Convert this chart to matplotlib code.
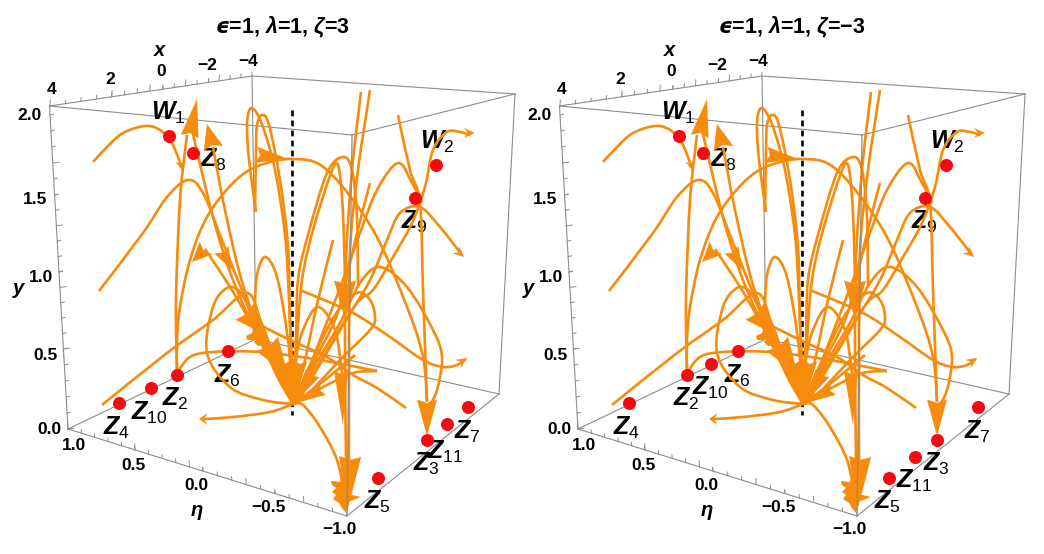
import numpy as np
import matplotlib
matplotlib.use("Agg")
import matplotlib.pyplot as plt
from matplotlib.path import Path
from matplotlib.patches import PathPatch, Polygon

plt.rcParams['font.family'] = ['Liberation Sans', 'DejaVu Sans']
plt.rcParams['mathtext.fontset'] = 'custom'
plt.rcParams['mathtext.rm'] = 'Liberation Sans'
plt.rcParams['mathtext.it'] = 'Liberation Sans:italic:bold'
plt.rcParams['mathtext.bf'] = 'Liberation Sans:bold'
plt.rcParams['mathtext.sf'] = 'DejaVu Sans:italic:bold'

ORANGE = '#F68B0C'
PANEL_SHIFT = 510   # right panel is the same box moved over

titles = [r"$\mathsf{ϵ}$=1, $\mathit{λ}$=1, $\mathit{ζ}$=3",
          r"$\mathsf{ϵ}$=1, $\mathit{λ}$=1, $\mathit{ζ}$=−3"]

# box corners, picture pixels
tl, tb, tf, tr = (49.5, 106), (252, 76), (352, 135), (515, 94)
bl, bb, bf, br = (68, 429), (256, 339), (347, 516), (499, 394)

x_ticks = [4, 2, 0, -2, -4]
x_tick_px = [50, 111.7, 162.7, 208.3, 251.7]
x_label_px = [(52, 89), (110, 80), (161, 72), (207, 66), (248, 61)]

y_ticks = [0.0, 0.5, 1.0, 1.5, 2.0]
y_tick_px = [429, 349, 272, 195, 115]
y_label_px = [(49, 430), (45, 356), (41, 278), (35, 199), (30, 115)]

eta_ticks = [1.0, 0.5, 0.0, -0.5, -1.0]
eta_tick_px = [68, 135, 203, 275, 347]
eta_label_px = [(74, 446), (133, 465), (196, 485), (268, 507), (339, 530)]

# fixed points, left panel
names_a = ['W_1', 'Z_8', 'W_2', 'Z_9', 'Z_6', 'Z_2', 'Z_{10}', 'Z_4', 'Z_7', 'Z_{11}', 'Z_3', 'Z_5']
dots_a = [(169, 136), (193, 153), (436, 165), (415, 198), (228, 351), (177, 375),
          (151, 388), (119, 403), (468, 407), (447, 424), (427, 440), (378, 478)]
labels_a = [(168, 113), (213, 160), (437, 142), (414, 222), (227, 376), (175, 399),
            (149, 413), (117, 428), (467, 432), (445, 452), (426, 464), (377, 502)]

# fixed points, right panel
names_b = ['W_1', 'Z_8', 'W_2', 'Z_9', 'Z_6', 'Z_2', 'Z_{10}', 'Z_4', 'Z_7', 'Z_3', 'Z_{11}', 'Z_5']
dots_b = [(679, 136), (703, 153), (946, 165), (925, 198), (738, 351), (687, 375),
          (711, 364), (629, 403), (978, 407), (937, 440), (915, 457), (889, 478)]
labels_b = [(678, 113), (723, 160), (947, 142), (924, 222), (737, 376), (686, 399),
            (710, 388), (627, 428), (977, 432), (936, 464), (914, 481), (887, 502)]

N = (293, 404)  # where the flow lines meet

# flow lines
line_w1 = [(93, 162), (107, 147), (123, 133), (145, 126), (160, 130), (172, 143), (182, 168)]
line_peak = [(99, 291), (143, 233), (167, 197), (188, 180), (203, 193), (222, 240), (250, 310), (275, 365), N]
line_up1 = [(177, 372), (176, 300), (180, 200), (187, 135)]
line_up2 = [(205, 249), (235, 295), (265, 350), N]
line_down1 = [(192, 130), (213, 217), (233, 280), (262, 345), N]
line_down2 = [(213, 147), (225, 210), (243, 285), (272, 365), N]
line_big = [(177, 373), (177, 340), (180, 307), (190, 260), (207, 217), (233, 183), (258, 166), (293, 159), (327, 170),
            (373, 230), (407, 307), (423, 357), (427, 402)]
loop_1 = [(256, 212), (249, 160), (247, 125), (250, 109), (256, 112), (264, 130), (275, 170), (285, 235), (289, 300), N]
loop_2 = [(255, 212), (256, 150), (257, 125), (262, 115), (269, 125), (280, 180), (288, 247), (290, 320), N]
loop_3 = [(255, 303), (257, 275), (265, 257), (277, 277), (288, 340), N]
arc_1 = [N, (296, 340), (298, 280), (308, 235), (327, 173), (343, 157), (352, 170), (357, 217), (358, 285)]
arc_2 = [N, (297, 340), (302, 280), (313, 230), (331, 173), (338, 165), (342, 197), (344, 240), (345, 285)]
arc_3 = [(370, 183), (357, 233), (345, 285), (335, 320), (315, 360), (297, 400)]
long_1 = [(361, 92), (352, 170), (346, 260), (345, 350), (346, 460)]
long_2 = [(370, 90), (358, 170), (350, 250), (349, 350), (349, 460)]
line_z9 = [(398, 115), (410, 170), (420, 203), (423, 290), (427, 402)]
line_w2 = [(470, 135), (460, 132), (447, 132), (433, 150), (425, 187), (412, 223), (393, 257), (373, 290), (357, 303), (330, 345), (300, 397)]
arc_z9 = [(462, 255), (440, 227), (420, 207), (400, 213), (387, 240), (370, 280), (345, 322), (300, 398)]
arc_top = [(422, 203), (412, 183), (398, 163), (377, 190), (360, 233), (343, 280), (320, 340), (297, 400)]
arc_low = [(428, 408), (437, 390), (442, 357), (433, 330), (407, 287), (380, 267), (360, 283), (340, 323), (318, 360), (297, 400)]
loop_small = [(305, 398), (340, 360), (370, 330), (375, 317), (370, 300), (357, 293), (335, 315), (310, 365), N]
line_right = [(300, 290), (353, 313), (390, 337), (423, 360), (443, 367), (457, 365), (466, 359)]
line_z2_flat = [(177, 373), (190, 357), (213, 352), (260, 352), (320, 360), (377, 371)]
line_tail = [(406, 408), (377, 388), (353, 375), (327, 357), (290, 340), (262, 326)]
line_spur = [N, (327, 385), (353, 373), (377, 371)]
line_left = [N, (270, 412), (233, 417), (204, 419)]
lobe = [N, (263, 400), (230, 387), (207, 353), (213, 307), (227, 288), (240, 292), (253, 317), (280, 370), N]
line_diag = [(102, 405), (167, 353), (213, 320), (247, 293), (262, 325), (283, 380), N]
lobe_r = [N, (296, 360), (303, 330), (318, 307), (335, 330), (342, 373), (343, 380)]
line_bottom = [N, (303, 405), (320, 427), (337, 460), (345, 497)]
line_fan_a = [(333, 240), (318, 300), (305, 360), N]
line_fan_b = [(355, 355), (325, 380), N]

flow_lines = [line_w1, line_peak, line_up1, line_up2, line_down1, line_down2, line_big, loop_1, loop_2, loop_3,
              arc_1, arc_2, arc_3, long_1, long_2, line_z9, line_w2, arc_z9, arc_top, arc_low, loop_small,
              line_right, line_z2_flat, line_tail, line_spur, line_left, lobe, line_diag, lobe_r, line_bottom,
              line_fan_a, line_fan_b]

# large arrow heads: tip, middle of base, half width
head_tips = [(197, 99), (207, 124), (192, 262), (232, 270), (288, 159), (345, 320), (343, 425), (347, 512), (427, 436),
             (268, 336), (288, 376), N, N, N, N, (199, 419)]
head_bases = [(190, 135), (213, 147), (205, 249), (222, 251), (258, 155), (345, 282), (341, 372), (350, 458), (427, 401),
              (246, 312), (268, 345), (284, 362), (300, 362), (312, 374), (322, 390), (206, 419)]
head_half = [9, 10, 9, 8, 8, 11, 7, 11, 10, 13, 13, 11, 7, 8, 6, 6]

# small open heads at the end of the thin lines
small_tips = [(183, 171), (475, 133), (464, 257), (467, 358)]
small_from = [(180, 160), (462, 133), (455, 249), (458, 364)]

# crowd of heads at the lower front corner
spike_x = [331, 340, 343, 346, 348, 361, 348, 346, 342, 339, 333, 336, 332, 336, 332]
spike_y = [481, 482, 470, 483, 494, 497, 502, 513, 508, 503, 499, 495, 492, 488, 485]
# and the one on the left of the middle
jag_x = [246, 252, 254, 262, 268, 266, 258, 254, 250, 256, 247]
jag_y = [336, 333, 327, 330, 338, 345, 346, 342, 345, 340, 340]


def smooth(pts):
    p = np.array(pts, float)
    p = np.vstack([p[0], p, p[-1]])
    verts = [p[1]]
    codes = [Path.MOVETO]
    for i in range(1, len(p) - 2):
        verts += [p[i] + (p[i + 1] - p[i - 1]) / 6, p[i + 1] - (p[i + 2] - p[i]) / 6, p[i + 1]]
        codes += [Path.CURVE4] * 3
    return Path(verts, codes)


def moved(pts, dx):
    return [(a + dx, b) for a, b in pts]


def edge_y(a, b, px):
    return np.interp(px, [a[0], b[0]], [a[1], b[1]])


def edge_x(a, b, py):
    return np.interp(py, [a[1], b[1]], [a[0], b[0]])


def minor(px, n):
    out = []
    for p, q in zip(px[:-1], px[1:]):
        out += list(np.linspace(p, q, n + 1))
    return out


fig = plt.figure(figsize=(10.44, 5.54), dpi=100)
ax = fig.add_axes([0, 0, 1, 1])
ax.set_xlim(0, 1044)
ax.set_ylim(554, 0)
ax.axis('off')

for k, dx in enumerate([0, PANEL_SHIFT]):
    box_back = [(tl, tb), (tb, tr), (tb, bb), (bb, br), (bb, bl), (tl, bl), (tr, br), (bl, bf), (bf, br), (tl, tf), (tf, tr)]
    for a, b in box_back:
        ax.plot([a[0] + dx, b[0] + dx], [a[1], b[1]], color='#8c8c8c', lw=0.8, zorder=1)
    ax.plot([tf[0] + dx, bf[0] + dx], [tf[1], bf[1]], color='#8c8c8c', lw=0.9, zorder=7)

    # ticks
    for i, px in enumerate(minor(x_tick_px, 4)):
        l = 6 if i % 4 == 0 else 3.5
        py = edge_y(tl, tb, px)
        ax.plot([px + dx, px + dx + 0.3], [py, py - l], color='#8c8c8c', lw=0.7, zorder=1)
    for i, py in enumerate(minor(y_tick_px, 5)):
        l = 6 if i % 5 == 0 else 3.5
        px = edge_x(tl, bl, py)
        ax.plot([px + dx, px + dx + l], [py, py - 0.8], color='#8c8c8c', lw=0.7, zorder=1)
    for i, px in enumerate(minor(eta_tick_px, 5)):
        l = 6 if i % 5 == 0 else 3.5
        py = edge_y(bl, bf, px)
        ax.plot([px + dx, px + dx - 0.3], [py, py - l], color='#8c8c8c', lw=0.7, zorder=1)

    # tick labels
    for v, (a, b) in zip(x_ticks, x_label_px):
        ax.text(a + dx, b, str(v).replace('-', '−'), fontsize=12.5, fontweight='bold', ha='center', va='center')
    for v, (a, b) in zip(y_ticks, y_label_px):
        ax.text(a + dx, b, f"{v:.1f}", fontsize=12.5, fontweight='bold', ha='center', va='center')
    for v, (a, b) in zip(eta_ticks, eta_label_px):
        ax.text(a + dx, b, f"{v:.1f}".replace('-', '−'), fontsize=12.5, fontweight='bold', ha='center', va='center')

    ax.text(160 + dx, 50, 'x', fontsize=14.5, fontweight='bold', style='italic', ha='center', va='center')
    ax.text(18 + dx, 289, 'y', fontsize=14.5, fontweight='bold', style='italic', ha='center', va='center')
    ax.text(197 + dx, 510, 'η', fontsize=14.5, fontweight='bold', style='italic', ha='center', va='center')
    ax.text(282 + dx, 27, titles[k], fontsize=15.5, fontweight='bold', ha='center', va='center')

    ax.plot([292 + dx, 292 + dx], [110, 415], color='black', lw=1.9, dashes=(2.2, 1.6), zorder=2.5)

    # flow lines
    for pts in flow_lines:
        ax.add_patch(PathPatch(smooth(moved(pts, dx)), fc='none', ec=ORANGE, lw=1.9, capstyle='butt', zorder=3))

    # large heads
    for tip, base, half in zip(head_tips, head_bases, head_half):
        t = np.array(tip, float)
        b = np.array(base, float)
        n = (t - b) / np.hypot(*(t - b))
        perp = np.array([-n[1], n[0]])
        poly = [t, b + perp * half - n * 1.5, b + n * 2, b - perp * half - n * 1.5]
        ax.add_patch(Polygon(moved(poly, dx), closed=True, fc=ORANGE, ec='none', zorder=6))

    # small open heads
    for tip, frm in zip(small_tips, small_from):
        t = np.array(tip, float)
        f = np.array(frm, float)
        n = (t - f) / np.hypot(*(t - f))
        perp = np.array([-n[1], n[0]])
        poly = [t, t - 11 * n + 5 * perp, t - 7 * n, t - 11 * n - 5 * perp]
        ax.add_patch(Polygon(moved(poly, dx), closed=True, fc=ORANGE, ec='none', zorder=6))

    ax.add_patch(Polygon(moved(list(zip(spike_x, spike_y)), dx), closed=True, fc=ORANGE, ec='none', zorder=6))
    ax.add_patch(Polygon(moved(list(zip(jag_x, jag_y)), dx), closed=True, fc=ORANGE, ec='none', zorder=6))

# fixed points and their names
for names, dots, labels in [(names_a, dots_a, labels_a), (names_b, dots_b, labels_b)]:
    ax.scatter([d[0] for d in dots], [d[1] for d in dots], s=88, color='#F40A10', linewidths=0, zorder=4)
    for name, (a, b) in zip(names, labels):
        letter, sub = name.split('_')
        ax.text(a, b, rf"$\mathit{{{letter}}}_{{{sub.strip('{}')}}}$", fontsize=18, ha='center', va='center', zorder=2)

fig.savefig('out.png', dpi=100)
